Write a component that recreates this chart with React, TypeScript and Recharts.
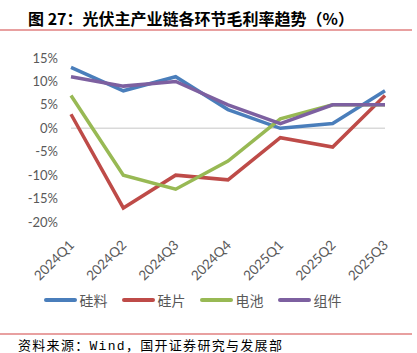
import React from 'react'
import { LineChart, Line, XAxis, YAxis, ReferenceLine, Legend } from 'recharts'

const quarters = ['2024Q1', '2024Q2', '2024Q3', '2024Q4', '2025Q1', '2025Q2', '2025Q3']
const polysilicon = [13, 8, 11, 4, 0, 1, 8]
const wafer = [3, -17, -10, -11, -2, -4, 7]
const cell = [7, -10, -13, -7, 2, 5, 5]
const module = [11, 9, 10, 5, 1, 5, 5]
const yTicks = [-20, -15, -10, -5, 0, 5, 10, 15]

const series = [
  { key: 'polysilicon', name: '硅料', color: '#4A7EBB' },
  { key: 'wafer', name: '硅片', color: '#BE4B48' },
  { key: 'cell', name: '电池', color: '#98B954' },
  { key: 'module', name: '组件', color: '#7D60A0' },
]

const data = quarters.map((q, i) => ({
  q,
  polysilicon: polysilicon[i],
  wafer: wafer[i],
  cell: cell[i],
  module: module[i],
}))

const FONT = 'Lato, "Noto Sans CJK SC", sans-serif'

function XTick({ x, y, payload }: any) {
  const ax = x + 4
  const ay = y + 16
  return (
    <text
      x={ax}
      y={ay}
      transform={`rotate(-45, ${ax}, ${ay})`}
      textAnchor="end"
      fill="#595959"
      fontSize={13.5}
      fontFamily={FONT}
    >
      {payload.value}
    </text>
  )
}

function LegendContent() {
  return (
    <div
      style={{
        height: 30,
        display: 'flex',
        justifyContent: 'center',
        alignItems: 'center',
        fontFamily: FONT,
        fontSize: 14,
        color: '#595959',
      }}
    >
      {series.map((s) => (
        <div key={s.key} style={{ display: 'flex', alignItems: 'center', margin: '0 7px' }}>
          <span
            style={{
              display: 'inline-block',
              width: 33,
              height: 4,
              borderRadius: 2,
              background: s.color,
              marginRight: 3,
            }}
          />
          <span>{s.name}</span>
        </div>
      ))}
    </div>
  )
}

export default function App() {
  return (
    <div
      style={{
        position: 'fixed',
        left: 0,
        top: 0,
        width: 417,
        height: 353,
        background: '#fff',
        overflow: 'hidden',
      }}
    >
      <div
        style={{
          position: 'absolute',
          left: 28,
          top: 8,
          fontFamily: '"Noto Sans CJK SC", sans-serif',
          fontWeight: 700,
          fontSize: 16,
          lineHeight: '20px',
          color: '#000',
        }}
      >
        图 27：光伏主产业链各环节毛利率趋势（%）
      </div>
      <div style={{ position: 'absolute', left: 0, top: 29, width: 412, height: 1.5, background: '#E8A0A0' }} />
      <div style={{ position: 'absolute', left: 0, top: 30 }}>
        <LineChart width={417} height={300} data={data} margin={{ top: 28, right: 32, bottom: 15, left: 0 }}>
          <XAxis
            dataKey="q"
            axisLine={false}
            tickLine={false}
            interval={0}
            height={63}
            tick={<XTick />}
          />
          <YAxis
            domain={[-20, 15]}
            ticks={yTicks}
            axisLine={false}
            tickLine={false}
            width={71}
            tickFormatter={(v) => `${v}%`}
            tick={{ fill: '#595959', fontSize: 13, fontFamily: FONT, dx: -5 }}
          />
          <ReferenceLine y={0} stroke="#D9D9D9" strokeWidth={1.5} />
          <Legend verticalAlign="bottom" content={<LegendContent />} />
          {series.map((s) => (
            <Line
              key={s.key}
              dataKey={s.key}
              name={s.name}
              stroke={s.color}
              strokeWidth={3.5}
              dot={false}
              type="linear"
              isAnimationActive={false}
            />
          ))}
        </LineChart>
      </div>
      <div style={{ position: 'absolute', left: 0, top: 333, width: 412, height: 1.5, background: '#E8A0A0' }} />
      <div
        style={{
          position: 'absolute',
          left: 18,
          top: 336,
          fontFamily: '"Noto Sans CJK SC", serif',
          fontSize: 13,
          letterSpacing: 1.3,
          lineHeight: '17px',
          color: '#000',
          whiteSpace: 'nowrap',
        }}
      >
        资料来源：<span style={{ fontFamily: '"Liberation Mono", monospace' }}>Wind</span>，国开证券研究与发展部
      </div>
    </div>
  )
}
